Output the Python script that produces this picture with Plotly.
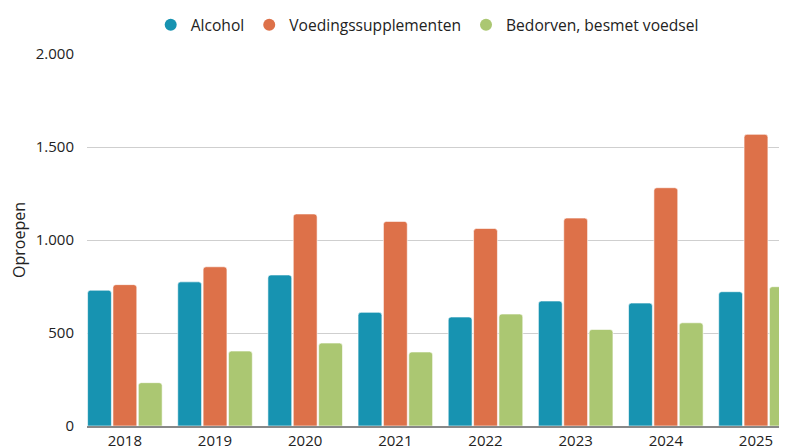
import plotly.graph_objects as go

years = ["2018", "2019", "2020", "2021", "2022", "2023", "2024", "2025"]
alcohol = [730, 775, 812, 611, 586, 672, 661, 722]
voedingssupplementen = [760, 856, 1140, 1100, 1062, 1118, 1281, 1568]
bedorven = [233, 403, 446, 398, 602, 519, 555, 749]

series_names = ["Alcohol", "Voedingssupplementen", "Bedorven, besmet voedsel"]
colors = ["#1793b1", "#dd7149", "#abc772"]
y_ticks = [0, 500, 1000, 1500, 2000]

font = "Open Sans, Noto Sans, sans-serif"
fig = go.Figure()
for name, vals, col in zip(series_names, [alcohol, voedingssupplementen, bedorven], colors):
    fig.add_trace(go.Bar(
        x=years, y=vals, name=name, showlegend=False,
        marker=dict(color=col, cornerradius=3, line=dict(color="rgba(255,255,255,0.6)", width=1)),
    ))
for name, col in zip(series_names, colors):
    fig.add_trace(go.Scatter(
        x=[None], y=[None], mode="markers", name=name,
        marker=dict(symbol="circle", size=16, color=col),
    ))

# page body has an 8px default margin; figure is sized so the plot lands where the reference has it
W, H = 779, 438
fig.update_layout(
    width=W, height=H,
    margin=dict(l=79, r=0, t=46, b=20, autoexpand=False),
    paper_bgcolor="white", plot_bgcolor="white",
    barmode="group", bargap=0.156, bargroupgap=0.06,
    separators=",.",
    font=dict(family=font, size=15, color="#222"),
    legend=dict(orientation="h", x=0.486, xanchor="center", y=1 - 17 / H, yanchor="middle",
                yref="container", font=dict(size=15.6), itemsizing="constant",
                traceorder="normal", itemwidth=30),
    xaxis=dict(range=[-0.42, 7.344], showgrid=False, ticks="", tickfont=dict(size=15),
               showline=True, linecolor="#888", linewidth=1.5, fixedrange=True,
               automargin=False),
    yaxis=dict(range=[0, 2000], tickvals=y_ticks, tickformat=",d", showgrid=True,
               gridcolor="#cfcfcf", gridwidth=1, zeroline=False, ticks="",
               ticklabelstandoff=12, automargin=False, tickfont=dict(size=15),
               title=dict(text="Oproepen", font=dict(size=16), standoff=7)),
)
fig.write_html("out.html")
